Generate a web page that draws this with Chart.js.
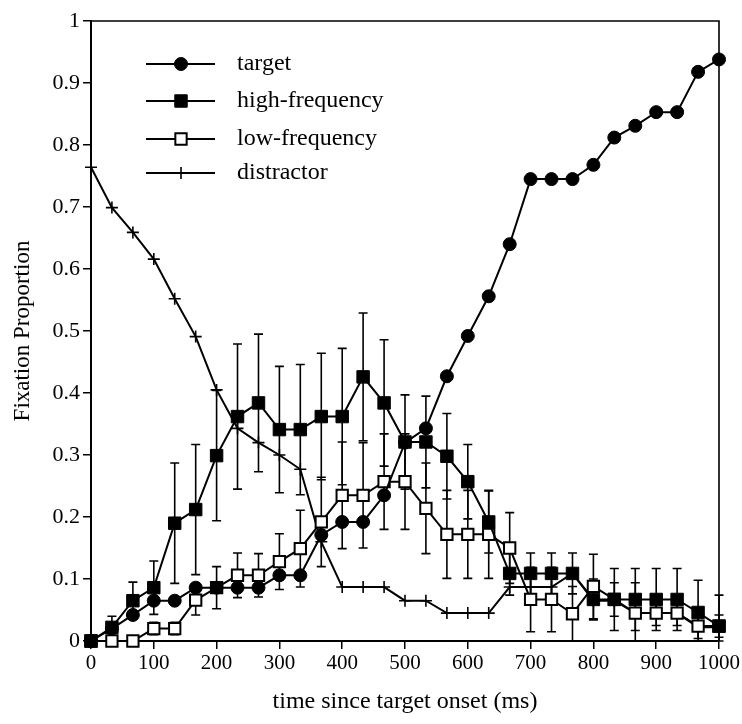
<!DOCTYPE html>
<html><head><meta charset="utf-8">
<script src="https://cdn.jsdelivr.net/npm/chart.js@4/dist/chart.umd.min.js"></script>
<style>html,body{margin:0;padding:0;background:#fff}#wrap{width:742px;height:724px}</style>
</head><body><div id="wrap"><canvas id="c" width="742" height="724"></canvas></div>
<script>
// time since target onset (ms)
const timeMs = [0,33.3,66.7,100,133.3,166.7,200,233.3,266.7,300,333.3,366.7,400,433.3,466.7,500,533.3,566.7,600,633.3,666.7,700,733.3,766.7,800,833.3,866.7,900,933.3,966.7,1000];
const target = [0,0.02,0.042,0.065,0.065,0.086,0.086,0.086,0.086,0.106,0.106,0.171,0.192,0.192,0.235,0.32,0.343,0.427,0.492,0.556,0.64,0.745,0.745,0.745,0.768,0.812,0.831,0.853,0.853,0.918,0.938];
const highFreq = [0,0.022,0.065,0.086,0.19,0.212,0.299,0.362,0.384,0.341,0.341,0.362,0.362,0.426,0.384,0.321,0.321,0.298,0.257,0.192,0.109,0.109,0.109,0.109,0.067,0.067,0.067,0.067,0.067,0.046,0.024];
const highFreqErr = [0,0.018,0.03,0.043,0.097,0.105,0.105,0.117,0.111,0.102,0.105,0.102,0.11,0.103,0.102,0.076,0.074,0.069,0.06,0.05,0.035,0.033,0.033,0.033,0.033,0.05,0.05,0.05,0.05,0.052,0.05];
const lowFreq = [0,0,0,0.02,0.02,0.066,0.086,0.106,0.106,0.128,0.149,0.192,0.235,0.235,0.257,0.257,0.214,0.172,0.172,0.172,0.15,0.067,0.067,0.044,0.088,0.067,0.045,0.045,0.045,0.024,0.024];
const lowFreqErr = [0,0,0,0.01,0.01,0.024,0.034,0.036,0.035,0.045,0.062,0.072,0.086,0.085,0.077,0.077,0.073,0.071,0.071,0.071,0.057,0.052,0.052,0.044,0.052,0.027,0.049,0.02,0.02,0.02,0.018];
const distractor = [0.764,0.699,0.659,0.616,0.552,0.491,0.405,0.343,0.32,0.3,0.277,0.16,0.087,0.087,0.087,0.065,0.065,0.045,0.045,0.045,0.087,0.087,0.087,0.109,0.065,0.065,0.045,0.045,0.045,0.022,0.022];
const seriesNames = ['target','high-frequency','low-frequency','distractor'];
const xTicks = [0,100,200,300,400,500,600,700,800,900,1000];
const yTicks = [0,0.1,0.2,0.3,0.4,0.5,0.6,0.7,0.8,0.9,1];

const pts = arr => arr.map((v,i)=>({x:timeMs[i], y:v}));
const SERIF = '"Liberation Serif","DejaVu Serif",serif';

const errorBars = {
  id:'errorBars',
  beforeDatasetsDraw(chart){
    const {ctx, scales:{x,y}} = chart;
    ctx.save();
    ctx.strokeStyle = '#000';
    ctx.lineWidth = 1.6;
    const cap = 4.5;
    [[highFreq,highFreqErr],[lowFreq,lowFreqErr]].forEach(([vals,errs])=>{
      vals.forEach((v,i)=>{
        const e = errs[i]; if(!e) return;
        const px = x.getPixelForValue(timeMs[i]);
        const lo = Math.max(0, v-e);
        const y1 = y.getPixelForValue(v+e), y2 = y.getPixelForValue(lo);
        ctx.beginPath();
        ctx.moveTo(px,y1); ctx.lineTo(px,y2);
        ctx.moveTo(px-cap,y1); ctx.lineTo(px+cap,y1);
        ctx.moveTo(px-cap,y2); ctx.lineTo(px+cap,y2);
        ctx.stroke();
      });
    });
    ctx.restore();
  }
};

const frame = {
  id:'frame',
  afterDraw(chart){
    const {ctx, chartArea:a} = chart;
    ctx.save();
    ctx.strokeStyle='#000'; ctx.lineWidth=1.6;
    ctx.beginPath();
    ctx.moveTo(a.left,a.top); ctx.lineTo(a.right,a.top); ctx.lineTo(a.right,a.bottom);
    ctx.stroke();
    ctx.restore();
  }
};

const innerLegend = {
  id:'innerLegend',
  afterDatasetsDraw(chart){
    const {ctx} = chart;
    const rows = [64,101,139,173];
    const x0 = 146, x1 = 215, xm = 181, xt = 237;
    ctx.save();
    chart.data.datasets.forEach((ds,i)=>{
      const yy = rows[i];
      ctx.strokeStyle='#000'; ctx.lineWidth=2;
      ctx.beginPath(); ctx.moveTo(x0,yy); ctx.lineTo(x1,yy); ctx.stroke();
      ctx.fillStyle = ds.pointBackgroundColor; ctx.strokeStyle='#000'; ctx.lineWidth = ds.pointBorderWidth;
      Chart.helpers.drawPoint(ctx,{pointStyle:ds.pointStyle, radius:ds.pointRadius, rotation:0, borderWidth:ds.pointBorderWidth}, xm, yy);
      ctx.fillStyle='#000';
      ctx.font = '24px '+SERIF;
      ctx.textBaseline='middle'; ctx.textAlign='left';
      ctx.fillText(ds.label, xt, yy);
    });
    ctx.restore();
  }
};

const common = {borderColor:'#000', borderWidth:2, pointBorderColor:'#000', clip:false, tension:0};
new Chart(document.getElementById('c'),{
  type:'line',
  data:{datasets:[
    {...common, label:seriesNames[0], data:pts(target), pointStyle:'circle', pointRadius:6.5, pointBackgroundColor:'#000', pointBorderWidth:1, order:1},
    {...common, label:seriesNames[1], data:pts(highFreq), pointStyle:'rect', pointRadius:8.8, pointBackgroundColor:'#000', pointBorderWidth:1, order:0},
    {...common, label:seriesNames[2], data:pts(lowFreq), pointStyle:'rect', pointRadius:8, pointBackgroundColor:'#fff', pointBorderWidth:2, order:2},
    {...common, label:seriesNames[3], data:pts(distractor), pointStyle:'cross', pointRadius:6, pointBackgroundColor:'#000', pointBorderWidth:1.6, order:3}
  ]},
  options:{
    responsive:false, animation:false, devicePixelRatio:1,
    layout:{padding:{top:21,right:20,left:0,bottom:0}},
    plugins:{legend:{display:false}, tooltip:{enabled:false}},
    elements:{point:{hoverRadius:0}},
    scales:{
      x:{type:'linear', min:0, max:1000,
        afterBuildTicks(s){ s.ticks = xTicks.map(v=>({value:v})); },
        afterFit(s){ s.height = 83; },
        grid:{drawOnChartArea:false, drawTicks:true, tickLength:8, color:'#000', lineWidth:1.5},
        border:{display:true, color:'#000', width:2},
        ticks:{color:'#000', font:{family:SERIF, size:21}, padding:2, maxRotation:0, callback:v=>String(v)},
        title:{display:true, text:'time since target onset (ms)', color:'#000', font:{family:SERIF, size:24}, padding:{top:8,bottom:8}}
      },
      y:{type:'linear', min:0, max:1,
        afterBuildTicks(s){ s.ticks = yTicks.map(v=>({value:v})); },
        afterFit(s){ s.width = 91; },
        grid:{drawOnChartArea:false, drawTicks:true, tickLength:8, color:'#000', lineWidth:1.5},
        border:{display:true, color:'#000', width:2},
        ticks:{color:'#000', font:{family:SERIF, size:22}, padding:3, callback:v=>String(+v.toFixed(1))},
        title:{display:true, text:'Fixation Proportion', color:'#000', font:{family:SERIF, size:23}, padding:{top:9,bottom:9}}
      }
    }
  },
  plugins:[errorBars, innerLegend, frame]
});
</script></body></html>
